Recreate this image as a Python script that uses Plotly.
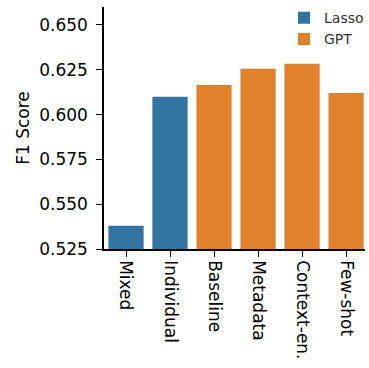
import plotly.graph_objects as go

categories = ["Mixed", "Individual", "Baseline", "Metadata", "Context-en.", "Few-shot"]
lasso_cats = ["Mixed", "Individual"]
lasso_vals = [0.538, 0.610]
gpt_cats = ["Baseline", "Metadata", "Context-en.", "Few-shot"]
gpt_vals = [0.6165, 0.6255, 0.6283, 0.612]
yticks = [0.525, 0.550, 0.575, 0.600, 0.625, 0.650]

fig = go.Figure()
fig.add_bar(x=lasso_cats, y=lasso_vals, name="Lasso", marker_color="#3274a1",
            marker_line_width=0, width=0.8)
fig.add_bar(x=gpt_cats, y=gpt_vals, name="GPT", marker_color="#e1812c",
            marker_line_width=0, width=0.8)

fig.update_layout(
    width=369, height=368,
    margin=dict(l=104, r=0, t=7, b=119),
    plot_bgcolor="white", paper_bgcolor="white",
    font=dict(family="DejaVu Sans", size=17, color="black"),
    barmode="overlay",
    showlegend=True,
    legend=dict(x=0.69, y=1.02, xanchor="left", yanchor="top",
                font=dict(size=14, color="#333333"), bgcolor="rgba(0,0,0,0)",
                itemwidth=30, tracegroupgap=0),
)
fig.update_xaxes(
    categoryorder="array", categoryarray=categories,
    range=[-0.5, 5.43], showline=True, linecolor="black", linewidth=1.5,
    ticks="outside", ticklen=6, tickwidth=1.3, tickcolor="black",
    tickangle=90, tickfont=dict(size=17), showgrid=False, zeroline=False,
)
fig.update_yaxes(
    range=[0.525, 0.660], tickvals=yticks, ticktext=[f"{v:.3f}" for v in yticks],
    showline=True, linecolor="black", linewidth=1.5,
    ticks="outside", ticklen=6, tickwidth=1.3, tickcolor="black",
    ticklabelstandoff=5,
    showgrid=False, zeroline=False, tickfont=dict(size=17),
    title=dict(text="F1 Score", font=dict(size=17), standoff=5),
)

fig.write_html("out.html", config={"displayModeBar": False},
               post_script="document.body.style.margin='0';")
